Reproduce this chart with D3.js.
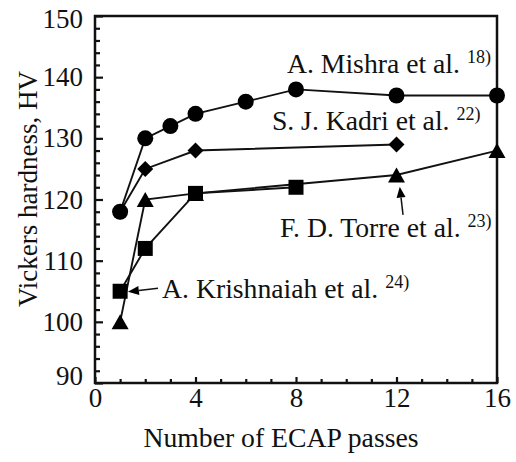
<!DOCTYPE html>
<html>
<head>
<meta charset="utf-8">
<script src="https://cdn.jsdelivr.net/npm/d3@7"></script>
<style>
  html, body { margin: 0; padding: 0; background: #fff; }
</style>
</head>
<body>
<svg id="chart" width="516" height="462"></svg>
<script>
// ---- data ----
const mishraX = [1, 2, 3, 4, 6, 8, 12, 16];
const mishraY = [118, 130, 132, 134, 136, 138, 137, 137];
const kadriX = [1, 2, 4, 12];
const kadriY = [118, 125, 128, 129];
const torreX = [1, 2, 4, 12, 16];
const torreY = [100, 120, 121, 124, 128];
const krishX = [1, 2, 4, 8];
const krishY = [105, 112, 121, 122];

const xMajorTicks = [0, 4, 8, 12, 16];
const xMinorTicks = [1, 2, 3, 5, 6, 7, 9, 10, 11, 13, 14, 15];
const yMajorTicks = [90, 100, 110, 120, 130, 140, 150];
const yMinorTicks = [92, 94, 96, 98, 102, 104, 106, 108, 112, 114, 116, 118, 122, 124, 126, 128, 132, 134, 136, 138, 142, 144, 146, 148];

const xTitle = "Number of ECAP passes";
const yTitle = "Vickers hardness, HV";

const labelTexts = ["A. Mishra et al.", "S. J. Kadri et al.", "F. D. Torre et al.", "A. Krishnaiah et al."];
const labelRefs = ["18)", "22)", "23)", "24)"];

// ---- layout ----
const svg = d3.select("#chart");
const L = 95, R = 497, T = 16, B = 383;
const FONT = "'Liberation Serif'";

const x = d3.scaleLinear().domain([0, 16]).range([L, R]);
const y = d3.scaleLinear().domain([90, 150]).range([B, T]);

// axes
const gx = svg.append("g").attr("transform", `translate(0,${B})`);
gx.call(d3.axisBottom(x).tickValues(xMinorTicks).tickFormat("").tickSizeInner(-4).tickSizeOuter(0));
gx.selectAll(".domain").remove();
const gx2 = svg.append("g").attr("transform", `translate(0,${B})`);
gx2.call(d3.axisBottom(x).tickValues(xMajorTicks).tickFormat(d3.format("d")).tickSizeInner(-6).tickSizeOuter(0).tickPadding(5));
gx2.selectAll(".domain").remove();

const gy = svg.append("g").attr("transform", `translate(${L},0)`);
gy.call(d3.axisLeft(y).tickValues(yMinorTicks).tickFormat("").tickSizeInner(-5).tickSizeOuter(0));
gy.selectAll(".domain").remove();
const gy2 = svg.append("g").attr("transform", `translate(${L},0)`);
gy2.call(d3.axisLeft(y).tickValues(yMajorTicks).tickFormat(d3.format("d")).tickSizeInner(-8).tickSizeOuter(0).tickPadding(12));
gy2.selectAll(".domain").remove();

svg.selectAll(".tick line").attr("stroke", "#111").attr("stroke-width", 2.2);
svg.selectAll(".tick text").style("font-family", FONT).style("font-size", "27px").attr("fill", "#111");
gy2.selectAll(".tick text").filter(d => d === 90).attr("dy", "0.05em");
gy2.selectAll(".tick text").filter(d => d === 150).attr("dy", "0.42em");

// frame
svg.append("rect").attr("x", L).attr("y", T).attr("width", R - L).attr("height", B - T)
  .attr("fill", "none").attr("stroke", "#111").attr("stroke-width", 2.5);

// titles
svg.append("text").attr("x", 281).attr("y", 447).attr("text-anchor", "middle").attr("fill", "#111")
  .style("font-family", FONT).style("font-size", "27.7px").text(xTitle);
svg.append("text").attr("transform", `translate(37,189) rotate(-90)`).attr("text-anchor", "middle").attr("fill", "#111")
  .style("font-family", FONT).style("font-size", "27px").text(yTitle);

// series
const series = [
  { xs: mishraX, ys: mishraY, shape: "circle" },
  { xs: kadriX, ys: kadriY, shape: "diamond" },
  { xs: torreX, ys: torreY, shape: "triangle" },
  { xs: krishX, ys: krishY, shape: "square" }
];
const line = d3.line().x(d => x(d[0])).y(d => y(d[1]));
series.forEach(s => {
  const pts = s.xs.map((v, i) => [v, s.ys[i]]);
  svg.append("path").attr("d", line(pts)).attr("fill", "none").attr("stroke", "#111").attr("stroke-width", 1.9);
});
function shapePath(shape, cx, cy) {
  if (shape === "circle") {
    const r = 8;
    return `M${cx - r},${cy}a${r},${r} 0 1,0 ${2 * r},0a${r},${r} 0 1,0 ${-2 * r},0Z`;
  }
  if (shape === "diamond") {
    const h = 8;
    return `M${cx},${cy - h}L${cx + h},${cy}L${cx},${cy + h}L${cx - h},${cy}Z`;
  }
  if (shape === "triangle") {
    const w = 8.5, hh = 7.5;
    return `M${cx},${cy - hh}L${cx + w},${cy + hh}L${cx - w},${cy + hh}Z`;
  }
  const a = 7.5;
  return `M${cx - a},${cy - a}h${2 * a}v${2 * a}h${-2 * a}Z`;
}
series.forEach(s => {
  s.xs.forEach((v, i) => {
    svg.append("path").attr("d", shapePath(s.shape, x(v), y(s.ys[i]))).attr("fill", "#000");
  });
});

// annotations (positions in data units)
const labelPos = [[7.64, 140.7], [7.04, 131.4], [7.36, 113.9], [2.67, 103.9]];
labelTexts.forEach((t, i) => {
  const tx = svg.append("text").attr("x", x(labelPos[i][0])).attr("y", y(labelPos[i][1])).attr("fill", "#111")
    .style("font-family", FONT).style("font-size", "27.7px");
  tx.append("tspan").text(t);
  tx.append("tspan").attr("dx", 7).attr("dy", -10).style("font-size", "18px").text(labelRefs[i]);
});

// arrows
const arrows = [
  { from: [12.26, 117.5], to: [12.13, 122.1] },
  { from: [2.51, 105.5], to: [1.31, 104.9] }
];
arrows.forEach(a => {
  const x1 = x(a.from[0]), y1 = y(a.from[1]), x2 = x(a.to[0]), y2 = y(a.to[1]);
  const ang = Math.atan2(y2 - y1, x2 - x1);
  const len = 11, hw = 4.5;
  const bx = x2 - len * Math.cos(ang), by = y2 - len * Math.sin(ang);
  svg.append("line").attr("x1", x1).attr("y1", y1).attr("x2", bx).attr("y2", by)
    .attr("stroke", "#111").attr("stroke-width", 1.5);
  const px = -Math.sin(ang) * hw, py = Math.cos(ang) * hw;
  svg.append("path").attr("d", `M${x2},${y2}L${bx + px},${by + py}L${bx - px},${by - py}Z`).attr("fill", "#000");
});
</script>
</body>
</html>
